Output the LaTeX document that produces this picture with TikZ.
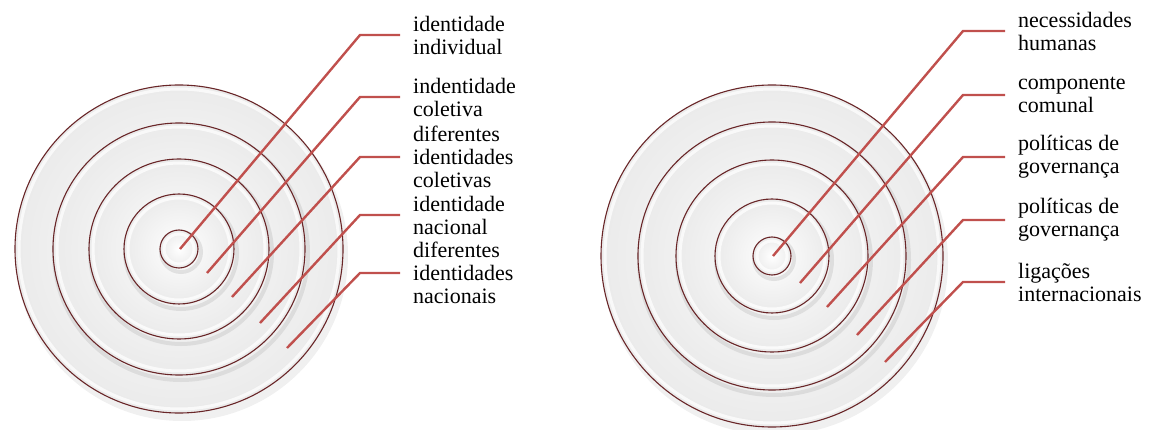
\documentclass[tikz,border=0pt]{standalone}
\usepackage{fontspec}
\setmainfont{Liberation Serif}
\definecolor{leadRed}{RGB}{192, 80, 77}
\definecolor{ringBrown}{RGB}{105, 38, 40}
\usetikzlibrary{positioning}

\begin{document}
\begin{tikzpicture}[x=1pt, y=-1pt,
  disk/.style={inner color=white, outer color=gray!16},
  dropshade/.style={draw=gray!55, line width=4pt, opacity=0.35},
  glint/.style={draw=white, line width=3pt, opacity=0.75},
  ring/.style={draw=ringBrown, line width=1.1pt},
  lead/.style={draw=leadRed, line width=2.4pt},
  lbl/.style={inner xsep=13pt, inner ysep=0pt, align=left,
              font=\fontsize{22}{23}\selectfont},
]
  \useasboundingbox (0,0) rectangle (1154,430);

  % left target
  \coordinate (cl) at (179,249);
  \fill[gray!30, opacity=0.4] ([shift={(3,6)}]cl) circle (166);
  \shade[disk] (cl) circle (164); \draw[glint] (cl) circle (160); \draw[ring] (cl) circle (164);
  \draw[dropshade] ([shift={(2,4)}]cl) circle (127);
  \shade[disk] (cl) circle (126); \draw[glint] (cl) circle (122); \draw[ring] (cl) circle (126);
  \draw[dropshade] ([shift={(2,4)}]cl) circle (91);
  \shade[disk] (cl) circle (90); \draw[glint] (cl) circle (86); \draw[ring] (cl) circle (90);
  \draw[dropshade] ([shift={(2,4)}]cl) circle (56);
  \shade[disk] (cl) circle (55); \draw[glint] (cl) circle (51); \draw[ring] (cl) circle (55);
  \draw[dropshade] ([shift={(2,3)}]cl) circle (20);
  \shade[disk] (cl) circle (19); \draw[glint] (cl) circle (15); \draw[ring] (cl) circle (19);

  \coordinate (a1) at (180,249);
  \coordinate (a2) at (207,273);
  \coordinate (a3) at (232,297);
  \coordinate (a4) at (260,323);
  \coordinate (a5) at (287,348);
  \coordinate (e1) at (360,35);
  \coordinate (e2) at (360,97);
  \coordinate (e3) at (360,157);
  \coordinate (e4) at (360,215);
  \coordinate (e5) at (360,273);

  \node[lbl, right=40pt of e1] (l1) {identidade\\individual};
  \node[lbl, right=40pt of e2] (l2) {indentidade\\coletiva};
  \node[lbl, right=40pt of e3] (l3) {diferentes\\identidades\\coletivas};
  \node[lbl, right=40pt of e4] (l4) {identidade\\nacional};
  \node[lbl, right=40pt of e5] (l5) {diferentes\\identidades\\nacionais};

  \draw[lead] (a1) -- (e1) -- (l1.west);
  \draw[lead] (a2) -- (e2) -- (l2.west);
  \draw[lead] (a3) -- (e3) -- (l3.west);
  \draw[lead] (a4) -- (e4) -- (l4.west);
  \draw[lead] (a5) -- (e5) -- (l5.west);

  % right target
  \coordinate (cr) at (772,256);
  \fill[gray!30, opacity=0.4] ([shift={(3,6)}]cr) circle (173);
  \shade[disk] (cr) circle (171); \draw[glint] (cr) circle (167); \draw[ring] (cr) circle (171);
  \draw[dropshade] ([shift={(2,4)}]cr) circle (135);
  \shade[disk] (cr) circle (134); \draw[glint] (cr) circle (130); \draw[ring] (cr) circle (134);
  \draw[dropshade] ([shift={(2,4)}]cr) circle (97);
  \shade[disk] (cr) circle (96); \draw[glint] (cr) circle (92); \draw[ring] (cr) circle (96);
  \draw[dropshade] ([shift={(2,4)}]cr) circle (58);
  \shade[disk] (cr) circle (57); \draw[glint] (cr) circle (53); \draw[ring] (cr) circle (57);
  \draw[dropshade] ([shift={(2,3)}]cr) circle (20);
  \shade[disk] (cr) circle (19); \draw[glint] (cr) circle (15); \draw[ring] (cr) circle (19);

  \coordinate (b1) at (773,256);
  \coordinate (b2) at (800,283);
  \coordinate (b3) at (827,307);
  \coordinate (b4) at (857,335);
  \coordinate (b5) at (885,362);
  \coordinate (f1) at (963,31);
  \coordinate (f2) at (963,95);
  \coordinate (f3) at (963,157);
  \coordinate (f4) at (963,220);
  \coordinate (f5) at (963,282);

  \node[lbl, right=42pt of f1] (m1) {necessidades\\humanas};
  \node[lbl, right=42pt of f2] (m2) {componente\\comunal};
  \node[lbl, right=42pt of f3] (m3) {políticas de\\governança};
  \node[lbl, right=42pt of f4] (m4) {políticas de\\governança};
  \node[lbl, right=42pt of f5] (m5) {ligações\\internacionais};

  \draw[lead] (b1) -- (f1) -- (m1.west);
  \draw[lead] (b2) -- (f2) -- (m2.west);
  \draw[lead] (b3) -- (f3) -- (m3.west);
  \draw[lead] (b4) -- (f4) -- (m4.west);
  \draw[lead] (b5) -- (f5) -- (m5.west);
\end{tikzpicture}
\end{document}
